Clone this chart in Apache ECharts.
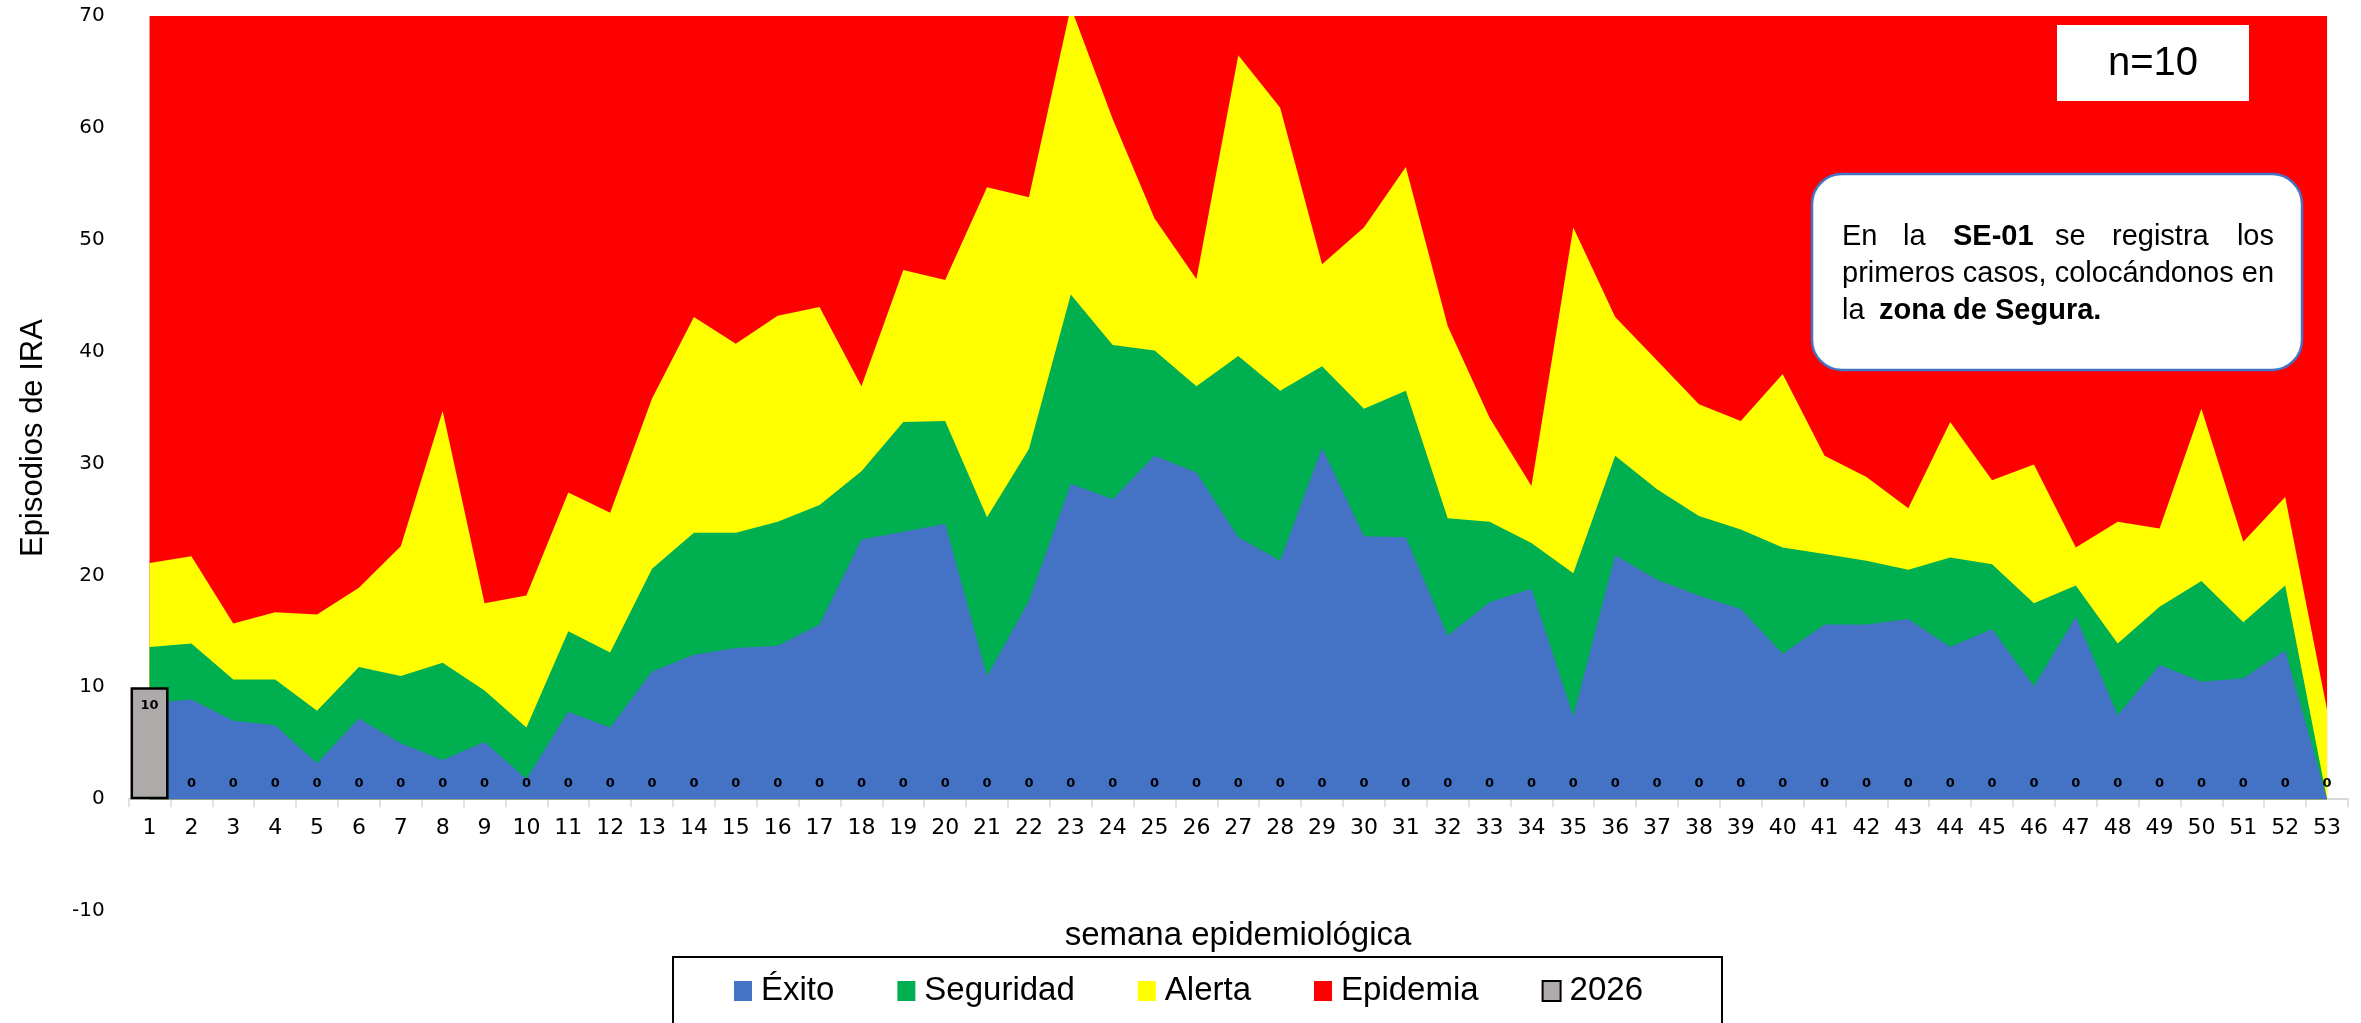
<!DOCTYPE html>
<html>
<head>
<meta charset="utf-8">
<script src="https://cdn.jsdelivr.net/npm/echarts@6/dist/echarts.min.js"></script>
<style>
html, body { margin: 0; padding: 0; background: #fff; }
#chart { width: 2361px; height: 1023px; }
</style>
</head>
<body>
<div id="chart"></div>
<script>
// semanas epidemiológicas
const semanas = ['1','2','3','4','5','6','7','8','9','10','11','12','13','14','15','16','17','18','19','20',
  '21','22','23','24','25','26','27','28','29','30','31','32','33','34','35','36','37','38','39','40',
  '41','42','43','44','45','46','47','48','49','50','51','52','53']

// limites del canal endémico
const exito = [8.6, 8.9, 7.0, 6.6, 3.2, 7.2, 5.0, 3.5, 5.1, 1.8,
  7.8, 6.4, 11.4, 12.9, 13.5, 13.7, 15.6, 23.2, 23.9, 24.6,
  11.0, 17.7, 28.2, 26.8, 30.7, 29.2, 23.4, 21.3, 31.4, 23.5,
  23.4, 14.6, 17.6, 18.8, 7.4, 21.8, 19.6, 18.2, 17.0, 13.0,
  15.6, 15.6, 16.1, 13.6, 15.2, 10.1, 16.3, 7.5, 12.0, 10.5,
  10.8, 13.3, 0]
const seguridad = [13.6, 13.9, 10.7, 10.7, 7.9, 11.8, 11.0, 12.2, 9.7, 6.4,
  15.0, 13.1, 20.6, 23.8, 23.8, 24.8, 26.3, 29.3, 33.7, 33.8,
  25.2, 31.3, 45.1, 40.6, 40.1, 36.9, 39.6, 36.5, 38.7, 34.9,
  36.5, 25.1, 24.8, 22.9, 20.2, 30.7, 27.7, 25.3, 24.1, 22.5,
  21.9, 21.3, 20.5, 21.6, 21.0, 17.5, 19.1, 13.9, 17.2, 19.5,
  15.8, 19.1, 0]
const alerta = [21.1, 21.7, 15.7, 16.7, 16.5, 18.9, 22.6, 34.7, 17.5, 18.2,
  27.4, 25.6, 35.8, 43.1, 40.7, 43.2, 44.0, 36.9, 47.3, 46.4,
  54.7, 53.8, 70.8, 60.8, 51.9, 46.5, 66.5, 61.8, 47.8, 51.1,
  56.5, 42.3, 34.1, 28.0, 51.1, 43.1, 39.2, 35.3, 33.8, 38.0,
  30.7, 28.8, 26.0, 33.7, 28.5, 29.9, 22.5, 24.8, 24.2, 34.9,
  23.0, 27.0, 8.0]
const epidemia = [70, 70, 70, 70, 70, 70, 70, 70, 70, 70,
  70, 70, 70, 70, 70, 70, 70, 70, 70, 70,
  70, 70, 70, 70, 70, 70, 70, 70, 70, 70,
  70, 70, 70, 70, 70, 70, 70, 70, 70, 70,
  70, 70, 70, 70, 70, 70, 70, 70, 70, 70,
  70, 70, 70]
// casos 2026
const casos2026 = [10, 0, 0, 0, 0, 0, 0, 0, 0, 0,
  0, 0, 0, 0, 0, 0, 0, 0, 0, 0,
  0, 0, 0, 0, 0, 0, 0, 0, 0, 0,
  0, 0, 0, 0, 0, 0, 0, 0, 0, 0,
  0, 0, 0, 0, 0, 0, 0, 0, 0, 0,
  0, 0, 0]
const yTicks = { min: -10, max: 70, interval: 10 }

const SANS = '"Liberation Sans", Arial, sans-serif'
const DEJA = '"DejaVu Sans", Verdana, sans-serif'

const zona = (name, data, color) => ({
  name,
  type: 'line',
  data,
  symbol: 'none',
  showSymbol: false,
  lineStyle: { width: 0 },
  itemStyle: { color },
  areaStyle: { color, opacity: 1 },
  silent: true
})

const chart = echarts.init(document.getElementById('chart'))
// alto de 10 unidades del eje y, para subir el eje x hasta el cero
const gridTop = 16, gridBottom = 112
const unidad10 = (1023 - gridTop - gridBottom) / 8

chart.setOption({
  animation: false,
  grid: { left: 128.6, right: 13, top: gridTop, bottom: gridBottom, containLabel: false },
  xAxis: {
    type: 'category',
    data: semanas,
    boundaryGap: true,
    offset: -unidad10,
    axisLine: { onZero: false, lineStyle: { color: '#D9D9D9', width: 2 } },
    axisTick: { show: true, length: 8, lineStyle: { color: '#D9D9D9', width: 1.5 } },
    axisLabel: { interval: 0, margin: 18, color: '#000', fontSize: 22, fontFamily: DEJA },
    z: 0
  },
  yAxis: {
    type: 'value',
    min: yTicks.min,
    max: yTicks.max,
    interval: yTicks.interval,
    axisLine: { show: false },
    axisTick: { show: false },
    splitLine: { show: false },
    axisLabel: { margin: 24, color: '#000', fontSize: 20, fontFamily: DEJA }
  },
  legend: {
    data: ['Éxito', 'Seguridad', 'Alerta', 'Epidemia', '2026'],
    left: 734,
    top: 974,
    padding: 0,
    icon: 'rect',
    itemWidth: 18,
    itemHeight: 20,
    itemGap: 63,
    textStyle: { fontSize: 33, fontFamily: SANS, color: '#000', lineHeight: 34, padding: [0, 0, 0, 4] }
  },
  series: [
    zona('Epidemia', epidemia, '#FF0000'),
    zona('Alerta', alerta, '#FFFF00'),
    zona('Seguridad', seguridad, '#00B050'),
    zona('Éxito', exito, '#4472C4'),
    {
      name: '2026',
      type: 'bar',
      barWidth: 38,
      z: 5,
      itemStyle: { color: '#AEAAAA', borderColor: '#000', borderWidth: 2.5 },
      label: {
        show: true,
        position: 'top',
        distance: 9,
        color: '#000',
        fontSize: 13,
        fontWeight: 'bold',
        fontFamily: DEJA
      },
      data: casos2026.map((v, i) => i === 0
        ? { value: v, label: { position: 'insideTop', distance: 12 } }
        : { value: v, itemStyle: { borderWidth: 0 } })
    }
  ],
  graphic: [
    {
      type: 'text', x: 33, y: 438, rotation: Math.PI / 2,
      style: { text: 'Episodios de IRA', fontSize: 31, fontFamily: SANS, fill: '#000', textAlign: 'center', textVerticalAlign: 'middle' }
    },
    {
      type: 'text', x: 1238, y: 936,
      style: { text: 'semana epidemiológica', fontSize: 33, fontFamily: SANS, fill: '#000', textAlign: 'center', textVerticalAlign: 'middle' }
    },
    {
      type: 'rect', shape: { x: 673, y: 957, width: 1049, height: 90 },
      style: { fill: 'none', stroke: '#000', lineWidth: 2 }
    },
    {
      type: 'rect', shape: { x: 2057, y: 25, width: 192, height: 76 },
      style: { fill: '#fff' }, z: 10
    },
    {
      type: 'text', x: 2153, y: 64, z: 11,
      style: { text: 'n=10', fontSize: 40, fontFamily: SANS, fill: '#000', textAlign: 'center', textVerticalAlign: 'middle' }
    },
    {
      type: 'rect', shape: { x: 1812, y: 174, width: 490, height: 196, r: 30 },
      style: { fill: '#fff', stroke: '#4472C4', lineWidth: 2.5 }, z: 10
    },
    // primera línea justificada
    { type: 'text', x: 1842, y: 237, z: 11, style: { text: 'En', fontSize: 29, fontFamily: SANS, fill: '#000', textVerticalAlign: 'middle' } },
    { type: 'text', x: 1903, y: 237, z: 11, style: { text: 'la', fontSize: 29, fontFamily: SANS, fill: '#000', textVerticalAlign: 'middle' } },
    { type: 'text', x: 1953, y: 237, z: 11, style: { text: 'SE-01', fontSize: 29, fontWeight: 'bold', fontFamily: SANS, fill: '#000', textVerticalAlign: 'middle' } },
    { type: 'text', x: 2055, y: 237, z: 11, style: { text: 'se', fontSize: 29, fontFamily: SANS, fill: '#000', textVerticalAlign: 'middle' } },
    { type: 'text', x: 2112, y: 237, z: 11, style: { text: 'registra', fontSize: 29, fontFamily: SANS, fill: '#000', textVerticalAlign: 'middle' } },
    { type: 'text', x: 2274, y: 237, z: 11, style: { text: 'los', fontSize: 29, fontFamily: SANS, fill: '#000', textAlign: 'right', textVerticalAlign: 'middle' } },
    { type: 'text', x: 1842, y: 274, z: 11, style: { text: 'primeros casos, colocándonos en', fontSize: 29, fontFamily: SANS, fill: '#000', textVerticalAlign: 'middle' } },
    { type: 'text', x: 1842, y: 311, z: 11, style: { text: 'la', fontSize: 29, fontFamily: SANS, fill: '#000', textVerticalAlign: 'middle' } },
    { type: 'text', x: 1879, y: 311, z: 11, style: { text: 'zona de Segura.', fontSize: 29, fontWeight: 'bold', fontFamily: SANS, fill: '#000', textVerticalAlign: 'middle' } }
  ]
})
</script>
</body>
</html>
